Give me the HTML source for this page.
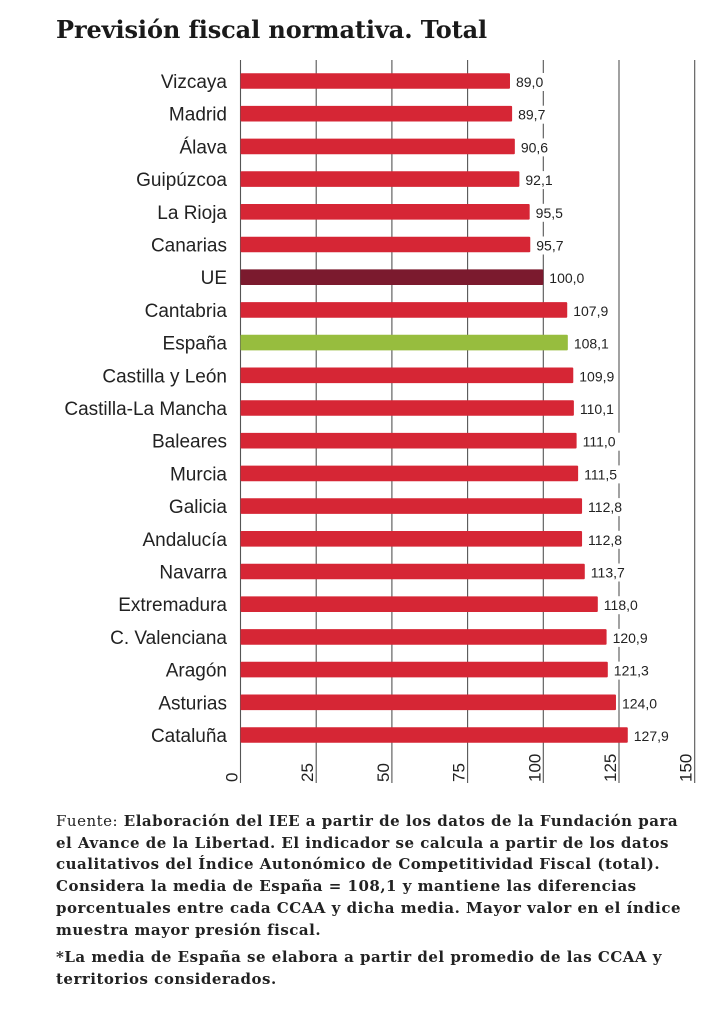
<!DOCTYPE html>
<html><head><meta charset="utf-8">
<style>
body{margin:0;background:#fff;width:722px;height:1032px;overflow:hidden;position:relative}
#title{position:absolute;left:56px;top:15px;font:bold 24px "DejaVu Serif","Liberation Serif",serif;color:#1a1a1a;white-space:nowrap;letter-spacing:-0.1px}
#foot{position:absolute;left:56px;top:811px;width:660px;font:bold 15px/21.7px "DejaVu Serif","Liberation Serif",serif;color:#222;letter-spacing:0.5px;white-space:nowrap}
#foot span{font-weight:normal}
#foot p{margin:0}
#foot p+p{margin-top:6px}
svg{position:absolute;left:0;top:0}
.cat{font:19px "Liberation Sans",sans-serif;fill:#222}
.val{font:14px "Liberation Sans",sans-serif;fill:#222}
.tick{font:17px "Liberation Sans",sans-serif;fill:#222}
</style></head><body>
<div id="title">Previsión fiscal normativa. Total</div>
<svg id="chart" width="722" height="800"></svg>
<div id="foot"><p><span>Fuente:</span> Elaboración del IEE a partir de los datos de la Fundación para<br>el Avance de la Libertad. El indicador se calcula a partir de los datos<br>cualitativos del Índice Autonómico de Competitividad Fiscal (total).<br>Considera la media de España = 108,1 y mantiene las diferencias<br>porcentuales entre cada CCAA y dicha media. Mayor valor en el índice<br>muestra mayor presión fiscal.</p><p>*La media de España se elabora a partir del promedio de las CCAA y<br>territorios considerados.</p></div>
<script>
const categories=["Vizcaya","Madrid","Álava","Guipúzcoa","La Rioja","Canarias","UE","Cantabria","España","Castilla y León","Castilla-La Mancha","Baleares","Murcia","Galicia","Andalucía","Navarra","Extremadura","C. Valenciana","Aragón","Asturias","Cataluña"];
const values=[89.0,89.7,90.6,92.1,95.5,95.7,100.0,107.9,108.1,109.9,110.1,111.0,111.5,112.8,112.8,113.7,118.0,120.9,121.3,124.0,127.9];
const ticks=[0,25,50,75,100,125,150];
const NS="http://www.w3.org/2000/svg";
const svg=document.getElementById('chart');
const x=v=>240.5+v*3.028;
const y=i=>81+i*32.7;
function mk(t,a){const e=document.createElementNS(NS,t);for(const k in a)e.setAttribute(k,a[k]);svg.appendChild(e);return e;}
ticks.forEach(t=>{
  const l=mk('line',{x1:x(t),x2:x(t),y1:60,y2:783,stroke:'#555','stroke-width':1.1});
  
  
  const tx=mk('text',{x:0,y:0,class:'tick',transform:`translate(${x(t)-3},782) rotate(-90)`});
  tx.textContent=t;
  
  
});
categories.forEach((c,i)=>{
  const col=c==="UE"?"#7b1a2e":(c==="España"?"#97bd3e":"#d62635");
  const r=mk('rect',{x:x(0),y:y(i)-7.8,width:x(values[i])-x(0),height:15.6,fill:col,rx:1});
  
  
  const lab=values[i].toFixed(1).replace('.',',');
  const bx=x(values[i])+4;
  const bg=mk('rect',{x:bx,y:y(i)-8,width:lab.length*7.6+2,height:18,fill:'#fff'});
  
  
  const v=mk('text',{x:bx+2,y:y(i)+6,class:'val'});
  v.textContent=lab;
  
  
  const t=mk('text',{x:227,y:y(i)+7,class:'cat','text-anchor':'end'});
  t.textContent=c;
  
  
});
</script>
</body></html>
